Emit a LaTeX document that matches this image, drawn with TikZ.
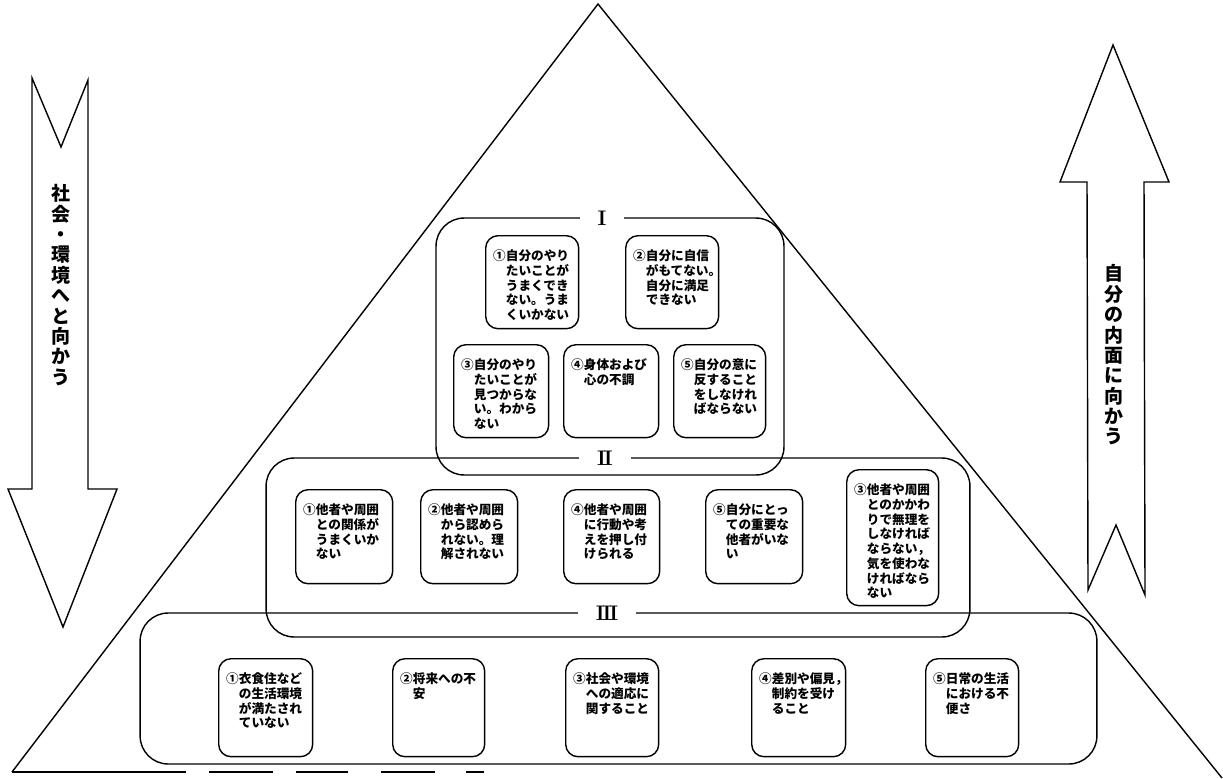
\documentclass[tikz,border=0pt]{standalone}
\usepackage{fontspec}
\usepackage{tikz}
\newfontfamily\jp{Noto Sans CJK JP}
\newcommand{\celltxt}[3]{\parbox[t][#2][t]{#1}{\jp\bfseries\fontsize{7.2}{8.4}\selectfont\hangindent=1em\hangafter=1 #3}}

\begin{document}
\begin{tikzpicture}[x=0.02cm, y=-0.02cm, line width=0.8pt,
    group/.style={draw, rounded corners=16pt, inner sep=0pt},
    cell/.style={draw, rounded corners=7pt, anchor=north west, inner xsep=0.15cm, inner ysep=0.28cm},
    lvl/.style={fill=white, inner xsep=0.36cm, inner ysep=1pt, font=\bfseries\fontsize{12}{12}\selectfont},
    arrowtext/.style={align=center, inner sep=0pt, font=\jp\bfseries\fontsize{10.8}{11.6}\selectfont}]
				\useasboundingbox (0,0) rectangle (1223,778);
				% pyramid
				\draw (12,772) -- (598,4) -- (1222,778);
				\foreach \a/\b in {12/186, 209/273, 296/348, 381/435, 466/484}
					\draw (\a,772) -- (\b,772);

				% arrows at the sides
				\draw (32,78) -- (61,147) -- (88,80) -- (88,489) -- (117,489) -- (63,627) -- (8,489) -- (32,489) -- cycle;
				\node (toworld) at (61,285) [arrowtext] {社\\会\\・\\環\\境\\へ\\と\\向\\か\\う};
				\draw (1113,45) -- (1169,182) -- (1144,182) -- (1145,595) -- (1116,525) -- (1088,590) -- (1087,182) -- (1060,182) -- cycle;
				\node (toself) at (1114,355) [arrowtext] {自\\分\\の\\内\\面\\に\\向\\か\\う};

				% levels
				\node (lvI) at (610,346.5) [group, minimum width=6.96cm, minimum height=5.14cm] {};
				\node (lvII) at (618,547.5) [group, minimum width=14.08cm, minimum height=3.58cm] {};
				\node (lvIII) at (618.5,688.5) [group, minimum width=19.14cm, minimum height=3.02cm] {};

				\node (l1a) at (485,235) [cell] {\celltxt{1.56cm}{1.30cm}{①自分のやり\\たいことが\\うまくでき\\ない。うま\\くいかない}};
				\node (l1b) at (625,235) [cell] {\celltxt{1.56cm}{1.30cm}{②自分に自信\\がもてない。\\自分に満足\\できない}};
				\node (l1c) at (453,344) [cell] {\celltxt{1.60cm}{1.30cm}{③自分のやり\\たいことが\\見つからな\\い。わから\\ない}};
				\node (l1d) at (563,344) [cell] {\celltxt{1.60cm}{1.30cm}{④身体および\\心の不調}};
				\node (l1e) at (673,344) [cell] {\celltxt{1.54cm}{1.30cm}{⑤自分の意に\\反すること\\をしなけれ\\ばならない}};

				\node (l2a) at (295,489) [cell] {\celltxt{1.64cm}{1.32cm}{①他者や周囲\\との関係が\\うまくいか\\ない}};
				\node (l2b) at (420,489) [cell] {\celltxt{1.64cm}{1.32cm}{②他者や周囲\\から認めら\\れない。理\\解されない}};
				\node (l2d) at (563,489) [cell] {\celltxt{1.62cm}{1.32cm}{④他者や周囲\\に行動や考\\えを押し付\\けられる}};
				\node (l2e) at (705,489) [cell] {\celltxt{1.64cm}{1.32cm}{⑤自分にとっ\\ての重要な\\他者がいな\\い}};
				\node (l2c) at (846,469) [cell] {\celltxt{1.54cm}{2.16cm}{③他者や周囲\\とのかかわ\\りで無理を\\しなければ\\ならない，\\気を使わな\\ければなら\\ない}};

				\node (l3a) at (218,658) [cell] {\celltxt{1.58cm}{1.40cm}{①衣食住など\\の生活環境\\が満たされ\\ていない}};
				\node (l3b) at (392,658) [cell] {\celltxt{1.54cm}{1.40cm}{②将来への不\\安}};
				\node (l3c) at (565,658) [cell] {\celltxt{1.56cm}{1.40cm}{③社会や環境\\への適応に\\関すること}};
				\node (l3d) at (751,658) [cell] {\celltxt{1.58cm}{1.40cm}{④差別や偏見，\\制約を受け\\ること}};
				\node (l3e) at (925,658) [cell] {\celltxt{1.56cm}{1.40cm}{⑤日常の生活\\における不\\便さ}};

				\node (labI) at (602,218) [lvl] {I};
				\node (labII) at (605,458) [lvl] {I\kern-1.2pt I};
				\node (labIII) at (607,613) [lvl] {I\kern-1.2pt I\kern-1.2pt I};
\end{tikzpicture}
\end{document}
